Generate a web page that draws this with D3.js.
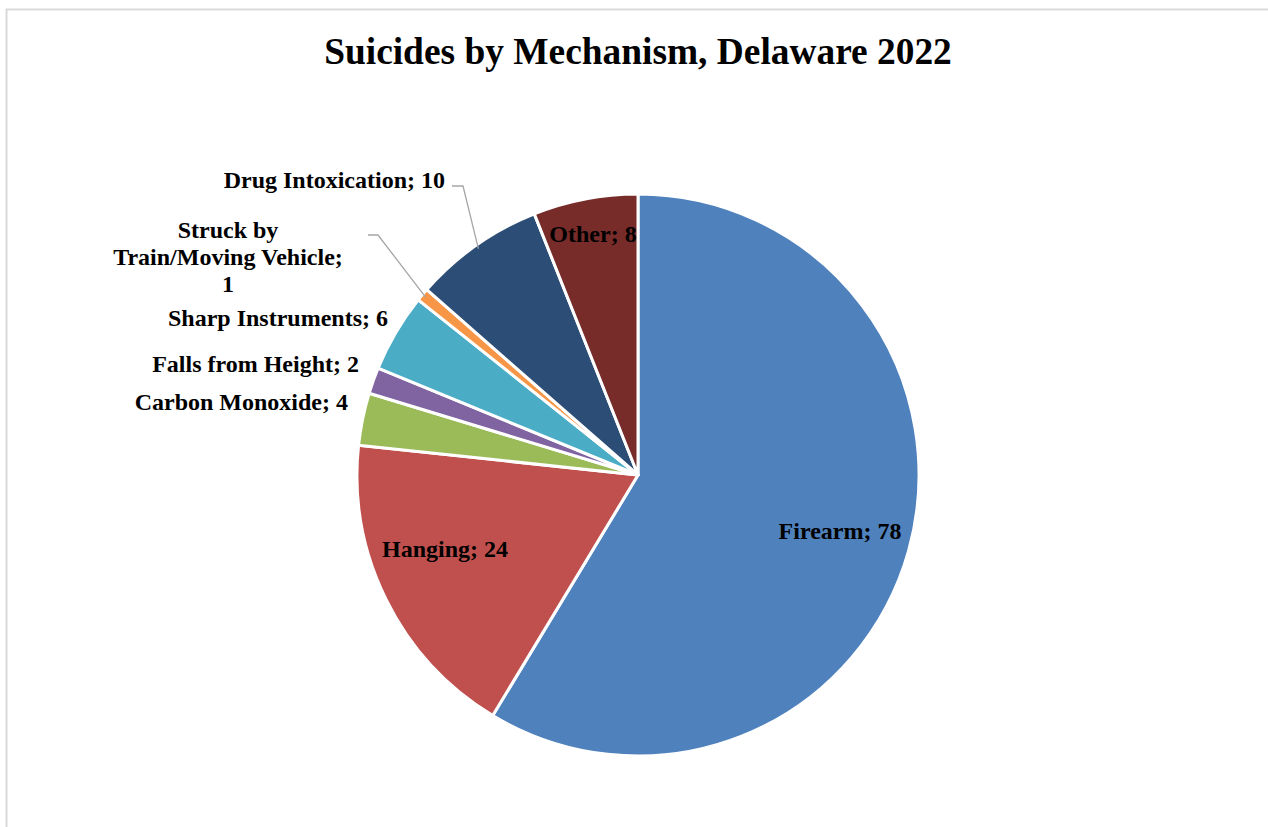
<!DOCTYPE html>
<html>
<head>
<meta charset="utf-8">
<script src="https://cdn.jsdelivr.net/npm/d3@7"></script>
<style>
  html, body { margin: 0; padding: 0; background: #fff; }
  svg { display: block; }
  text { font-family: "Liberation Serif", "Times New Roman", serif; font-weight: bold; fill: #000; }
</style>
</head>
<body>
<svg id="chart" width="1268" height="827"></svg>
<script>
// Suicide counts by mechanism, clockwise from 12 o'clock
const categories = ["Firearm", "Hanging", "Carbon Monoxide", "Falls from Height",
  "Sharp Instruments", "Struck by Train/Moving Vehicle", "Drug Intoxication", "Other"];
const counts = [78, 24, 4, 2, 6, 1, 10, 8];
const colors = ["#4F81BD", "#C0504D", "#9BBB59", "#8064A2", "#4BACC6", "#F79646", "#2C4D75", "#772C2A"];
const title = "Suicides by Mechanism, Delaware 2022";

const W = 1268, H = 827;
const cx = 638, cy = 475, R = 281;

const svg = d3.select("#chart");

// chart frame
svg.append("path")
  .attr("d", `M${W},9.5 H6.5 V${H}`)
  .attr("fill", "none").attr("stroke", "#d9d9d9").attr("stroke-width", 2);

svg.append("text")
  .attr("x", 638).attr("y", 64)
  .attr("text-anchor", "middle")
  .attr("font-size", 37.4)
  .text(title);

const data = categories.map((c, i) => ({ name: c, value: counts[i], color: colors[i] }));
const pie = d3.pie().value(d => d.value).sort(null);
const arcs = pie(data);
const arc = d3.arc().innerRadius(0).outerRadius(R);

const g = svg.append("g").attr("transform", `translate(${cx},${cy})`);

g.selectAll("path.slice")
  .data(arcs)
  .join("path")
  .attr("class", "slice")
  .attr("d", arc)
  .attr("fill", d => d.data.color)
  .attr("stroke", "#fff")
  .attr("stroke-width", 3)
  .attr("stroke-linejoin", "round");

// label anchors relative to the pie centre
const labelSpec = {
  "Firearm":            { dx: 202, dy: 64 },
  "Hanging":            { dx: -193, dy: 82 },
  "Other":              { dx: -45, dy: -233 },
  "Carbon Monoxide":    { dx: -290, dy: -65, anchor: "end" },
  "Falls from Height":  { dx: -279, dy: -103, anchor: "end" },
  "Sharp Instruments":  { dx: -250, dy: -149, anchor: "end" },
  "Struck by Train/Moving Vehicle": { dx: -410, dy: -237, anchor: "middle",
      lines: ["Struck by", "Train/Moving Vehicle;", "1"], leader: [[-270, -240], [-260, -240]] },
  "Drug Intoxication":  { dx: -193, dy: -287, anchor: "end", leader: [[-186, -289], [-175, -289]] }
};

arcs.forEach(a => {
  const s = labelSpec[a.data.name];
  const txt = `${a.data.name}; ${a.data.value}`;
  const t = g.append("text")
    .attr("font-size", 24)
    .attr("text-anchor", s.anchor || "middle");
  if (s.lines) {
    s.lines.forEach((ln, i) => {
      t.append("tspan").attr("x", s.dx).attr("y", s.dy + i * 27).text(ln);
    });
  } else {
    t.attr("x", s.dx).attr("y", s.dy).text(txt);
  }
  if (s.leader) {
    // leader line ends on the slice edge at its mid-angle
    const mid = (a.startAngle + a.endAngle) / 2;
    const ex = Math.sin(mid) * (R - 4), ey = -Math.cos(mid) * (R - 4);
    const pts = [...s.leader, [ex, ey]];
    g.append("path")
      .attr("d", d3.line()(pts))
      .attr("fill", "none").attr("stroke", "#a6a6a6").attr("stroke-width", 1.3);
  }
});
</script>
</body>
</html>
